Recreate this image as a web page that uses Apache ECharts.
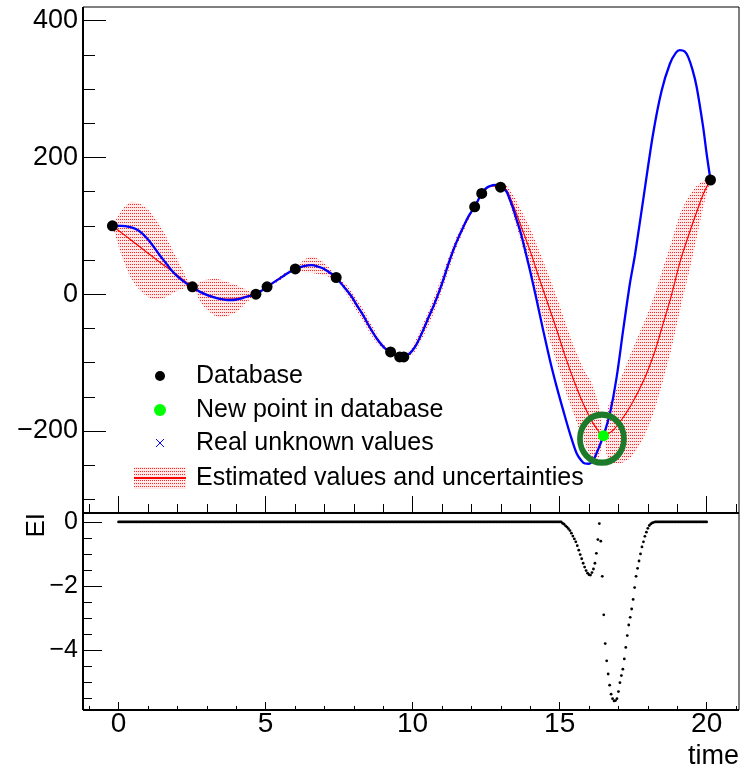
<!DOCTYPE html>
<html>
<head>
<meta charset="utf-8">
<title>Database, estimate and expected improvement</title>
<script src="https://cdn.jsdelivr.net/npm/echarts@6/dist/echarts.min.js"></script>
<style>
  html, body { margin: 0; padding: 0; background: #ffffff; }
  #main { width: 743px; height: 767px; }
</style>
</head>
<body>
<div id="main"></div>
<script>
// ---- data -------------------------------------------------------------

// Known samples (the database)
const dbTime  = [-0.21, 2.51, 4.67, 5.05, 6.01, 7.40, 9.25, 9.56, 9.70, 12.11, 12.35, 12.99, 20.13];
const dbValue = [100, 10.7, 0, 10.7, 37, 24.4, -84.5, -91.7, -91.7, 127.8, 147.4, 156.5, 167];

// Sample just added to the database
const newTime  = [16.49];
const newValue = [-207];

// Real (unknown) function
const realTime = [
  -0.21, 0.1, 0.4, 0.6, 0.8, 1.0, 1.2, 1.4, 1.6, 1.8,
  2.0, 2.2, 2.35, 2.51, 2.77, 3.11, 3.4, 3.7, 3.9,
  4.1, 4.3, 4.5, 4.67, 4.86, 5.05, 5.3, 5.55, 5.8, 6.01,
  6.3, 6.57, 6.8, 6.96, 7.2, 7.4, 7.6, 7.76, 7.95, 8.1,
  8.28, 8.44, 8.6, 8.78, 9.06, 9.25, 9.4, 9.56, 9.7, 9.85,
  10.0, 10.15, 10.36, 10.55, 10.7, 10.87, 11.04, 11.2, 11.38, 11.55,
  11.72, 11.9, 12.11, 12.35, 12.5, 12.63, 12.8, 12.99, 13.1, 13.2,
  13.3, 13.42, 13.55, 13.65, 13.76, 13.85, 13.99, 14.22, 14.44, 14.67,
  14.9, 15.12, 15.35, 15.58, 15.75, 15.86, 16.0, 16.14, 16.3, 16.49,
  16.71, 16.94, 17.16, 17.39, 17.56, 17.84, 18.18, 18.47, 18.75, 18.95,
  19.09, 19.25, 19.37, 19.52, 19.66, 19.88, 20.0, 20.13
];
const realValue = [
  100, 100, 98, 95, 89, 80, 69, 57, 46, 35,
  26, 19, 14.5, 10.7, 3.4, -2.9, -6.5, -8.5, -8.5,
  -7, -4.5, -2, 0, 5, 10.7, 18, 25, 32, 37,
  41, 42.4, 40, 37.6, 31, 24.4, 14, 5.8, -5, -16,
  -28, -40.5, -52.5, -64.8, -79.4, -84.5, -89, -91.6, -91.8, -88.5,
  -82, -72, -52.6, -33, -18.5, 0, 20.5, 42, 64, 82,
  98, 114, 127.8, 147.4, 155, 158, 160, 157, 154, 149.6,
  139, 125, 107, 93.6, 76, 60, 35, -8.8, -52.6, -96.5,
  -135.5, -169.6, -203.7, -233, -244, -247.6, -248, -242.8, -228, -207,
  -174.5, -121, -52.6, 15.6, 57, 137.5, 235, 298, 337, 353,
  357, 355, 347, 328, 303, 244.6, 205, 167
];

// Estimated values and their uncertainties
const estTime = [
  -0.21, 0.1, 0.4, 0.7, 1.0, 1.3, 1.6, 1.9, 2.2, 2.51,
  2.8, 3.1, 3.4, 3.7, 4.0, 4.3, 4.67, 4.86, 5.05, 5.3,
  5.55, 5.8, 6.01, 6.3, 6.6, 6.95, 7.2, 7.4, 7.7, 8.0,
  8.3, 8.6, 8.9, 9.25, 9.4, 9.56, 9.7, 10.0, 10.3, 10.6,
  10.9, 11.2, 11.5, 11.8, 12.11, 12.23, 12.35, 12.67, 12.99, 13.2,
  13.42, 13.7, 14.0, 14.3, 14.6, 14.9, 15.2, 15.5, 15.8, 16.1,
  16.3, 16.4, 16.49, 16.65, 16.82, 17.1, 17.39, 17.7, 17.96, 18.25,
  18.52, 18.8, 19.1, 19.4, 19.7, 19.9, 20.13
];
const estValue = [
  100, 89.8, 80, 70, 60, 50, 40.5, 31, 21, 10.7,
  3, -2, -6, -7, -6.5, -3.5, 0, 5, 10.7, 18,
  25, 32, 37, 41, 43, 37.5, 31, 24.4, 9.5, -9,
  -30, -52, -72, -84.5, -89, -91.7, -91.7, -82, -58, -29,
  4, 41, 77, 104, 127.8, 138, 147.4, 158.5, 156.5, 152,
  130, 98, 63, 24, -14, -52, -92, -128, -160, -186,
  -199, -204, -207, -204, -199, -184, -165, -140, -116, -82,
  -43, -2, 48, 88, 125, 148, 167
];
const estError = [
  0, 33, 55, 63, 64, 58, 45, 28, 13, 0,
  16, 24, 28, 25, 20, 11, 0, 1.5, 0, 2.5,
  3, 2.5, 0, 9, 12, 9.5, 6, 0, 6, 8,
  9, 8, 5, 0, 0.5, 0, 0, 6, 9, 11,
  11, 10, 8, 5, 0, 0.5, 0, 2, 0, 7,
  15, 24, 33, 40, 45, 48, 50, 50, 52, 55,
  42, 25, 0, 40, 48, 63, 75, 82, 84, 84,
  82, 78, 70, 56, 35, 18, 0
];

// Expected improvement, sampled every eiStep from eiStart (one row per time unit)
const eiStart = 0;
const eiStep = 0.05;
const eiValues = [
  /* 0  */ 0,0,0,0,0,0,0,0,0,0,0,0,0,0,0,0,0,0,0,0,
  /* 1  */ 0,0,0,0,0,0,0,0,0,0,0,0,0,0,0,0,0,0,0,0,
  /* 2  */ 0,0,0,0,0,0,0,0,0,0,0,0,0,0,0,0,0,0,0,0,
  /* 3  */ 0,0,0,0,0,0,0,0,0,0,0,0,0,0,0,0,0,0,0,0,
  /* 4  */ 0,0,0,0,0,0,0,0,0,0,0,0,0,0,0,0,0,0,0,0,
  /* 5  */ 0,0,0,0,0,0,0,0,0,0,0,0,0,0,0,0,0,0,0,0,
  /* 6  */ 0,0,0,0,0,0,0,0,0,0,0,0,0,0,0,0,0,0,0,0,
  /* 7  */ 0,0,0,0,0,0,0,0,0,0,0,0,0,0,0,0,0,0,0,0,
  /* 8  */ 0,0,0,0,0,0,0,0,0,0,0,0,0,0,0,0,0,0,0,0,
  /* 9  */ 0,0,0,0,0,0,0,0,0,0,0,0,0,0,0,0,0,0,0,0,
  /* 10 */ 0,0,0,0,0,0,0,0,0,0,0,0,0,0,0,0,0,0,0,0,
  /* 11 */ 0,0,0,0,0,0,0,0,0,0,0,0,0,0,0,0,0,0,0,0,
  /* 12 */ 0,0,0,0,0,0,0,0,0,0,0,0,0,0,0,0,0,0,0,0,
  /* 13 */ 0,0,0,0,0,0,0,0,0,0,0,0,0,0,0,0,0,0,0,0,
  /* 14 */ 0,0,0,0,0,0,0,0,0,0,0,0,0,0,0,0,0,0,0,0,
  /* 15 */ 0,0,-0.04,-0.07,-0.12,-0.16,-0.21,-0.27,-0.35,-0.44,-0.53,-0.62,-0.74,-0.88,-1.02,-1.15,-1.29,-1.41,-1.52,-1.60,
  /* 16 */ -1.65,-1.66,-1.58,-1.47,-1.29,-0.98,-0.55,-0.05,-0.60,-1.70,-2.90,-3.80,-4.34,-4.75,-5.10,-5.38,-5.52,-5.59,-5.58,-5.52,
  /* 17 */ -5.30,-5.02,-4.80,-4.60,-4.28,-3.92,-3.55,-3.22,-2.98,-2.72,-2.42,-2.05,-1.70,-1.45,-1.22,-1.00,-0.78,-0.62,-0.45,-0.32,
  /* 18 */ -0.20,-0.11,-0.06,-0.03,-0.01,0,0,0,0,0,0,0,0,0,0,0,0,0,0,0,
  /* 19 */ 0,0,0,0,0,0,0,0,0,0,0,0,0,0,0,0,0,0,0,0,
  /* 20 */ 0
];

// Axis ticks
const timeMajor = [0, 5, 10, 15, 20];
const timeMinor = [-1, 1, 2, 3, 4, 6, 7, 8, 9, 11, 12, 13, 14, 16, 17, 18, 19, 21];
const valueMajor = [-200, 0, 200, 400];
const valueMinor = [-300, -250, -150, -100, -50, 50, 100, 150, 250, 300, 350];
const eiMajor = [-4, -2, 0];
const eiMinor = [-5.5, -5, -4.5, -3.5, -3, -2.5, -1.5, -1, -0.5];

const legendLabels = ['Database', 'New point in database', 'Real unknown values', 'Estimated values and uncertainties'];

// ---- drawing ----------------------------------------------------------

const FONT = '"Liberation Sans", Arial, Helvetica, sans-serif';
const TIME_RANGE = [-1.21, 21.1];

const zip = (a, b) => a.map((v, i) => [v, b[i]]);
const minus = v => String(v).replace('-', '\u2212');

// red stipple used for the uncertainty band
function stipple() {
  const c = document.createElement('canvas');
  c.width = 2; c.height = 3;
  const g = c.getContext('2d');
  g.fillStyle = 'rgba(255,0,0,0.09)';
  g.fillRect(0, 0, 2, 3);
  g.fillStyle = 'rgba(255,0,0,0.85)';
  g.fillRect(0, 0, 1, 1);
  return c;
}
const bandFill = { image: stipple(), repeat: 'repeat' };

function timeAxis(grid, ticks, len, labels) {
  return {
    type: 'value', gridIndex: grid, min: TIME_RANGE[0], max: TIME_RANGE[1],
    position: 'bottom',
    axisLine: { show: false, onZero: false },
    splitLine: { show: false },
    axisTick: { show: true, inside: true, length: len, customValues: ticks,
                lineStyle: { color: '#000', width: 1 } },
    axisLabel: labels
      ? { show: true, customValues: ticks, fontSize: 28, fontFamily: FONT, color: '#000',
          margin: 0, formatter: minus }
      : { show: false }
  };
}
function valAxis(grid, min, max, ticks, len, labelSize) {
  return {
    type: 'value', gridIndex: grid, min: min, max: max,
    position: 'left',
    axisLine: { show: false, onZero: false },
    splitLine: { show: false },
    axisTick: { show: true, inside: true, length: len, customValues: ticks,
                lineStyle: { color: '#000', width: 1 } },
    axisLabel: labelSize
      ? { show: true, customValues: ticks, fontSize: labelSize, fontFamily: FONT, color: '#000',
          margin: 5, formatter: minus }
      : { show: false }
  };
}

const eiData = eiValues.map((v, i) => [eiStart + i * eiStep, v]);

const xAxes = [
  timeAxis(0, timeMajor, 17, false),
  timeAxis(0, timeMinor, 9, false),
  timeAxis(1, timeMajor, 8, true),
  timeAxis(1, timeMinor, 4, false)
];
xAxes[2].name = 'time';
xAxes[2].nameLocation = 'end';
xAxes[2].nameGap = 0;
xAxes[2].nameTextStyle = { fontSize: 27, fontFamily: FONT, color: '#000',
                           align: 'right', verticalAlign: 'top', padding: [33, 0, 0, 0] };

const yAxes = [
  valAxis(0, -320, 420, valueMajor, 23, 27),
  valAxis(0, -320, 420, valueMinor, 12, 0),
  valAxis(1, -5.875, 0.28, eiMajor, 19, 25),
  valAxis(1, -5.875, 0.28, eiMinor, 9, 0)
];

// legend drawn as graphic rows
const LX = 160, TX = 196, rows = [376, 410, 443, 478];
const legendText = rows.map((y, i) => ({
  type: 'text', x: TX, y: y,
  style: { text: legendLabels[i], fontSize: 25, fontFamily: FONT, fill: '#000',
           align: 'left', verticalAlign: 'middle' }
}));

const option = {
  animation: false,
  backgroundColor: '#ffffff',
  grid: [
    { left: 83, top: 7, width: 656, height: 506, outerBoundsMode: 'none', containLabel: false,
      show: true, borderColor: '#000', borderWidth: 1, backgroundColor: 'transparent' },
    { left: 83, top: 513, width: 656, height: 197, outerBoundsMode: 'none', containLabel: false,
      show: true, borderColor: '#000', borderWidth: 1, backgroundColor: 'transparent' }
  ],
  xAxis: xAxes,
  yAxis: yAxes,
  series: [
    {
      name: legendLabels[3] + ' band',
      type: 'custom', xAxisIndex: 0, yAxisIndex: 0, z: 1, silent: true,
      data: [[estTime[0], estValue[0]]],
      renderItem: function (params, api) {
        const up = estTime.map((t, i) => api.coord([t, estValue[i] + estError[i]]));
        const lo = estTime.map((t, i) => api.coord([t, estValue[i] - estError[i]])).reverse();
        return {
          type: 'polygon',
          shape: { points: up.concat(lo), smooth: 0.25 },
          style: { fill: bandFill, stroke: null }
        };
      }
    },
    {
      name: legendLabels[3],
      type: 'line', xAxisIndex: 0, yAxisIndex: 0, z: 2,
      data: zip(estTime, estValue), showSymbol: false, smooth: 0.3,
      lineStyle: { color: '#ff0000', width: 1.2 }
    },
    {
      name: legendLabels[2],
      type: 'line', xAxisIndex: 0, yAxisIndex: 0, z: 3,
      data: zip(realTime, realValue), showSymbol: false, smooth: 0.3,
      lineStyle: { color: '#0000ff', width: 2.3 }
    },
    {
      name: legendLabels[0],
      type: 'scatter', xAxisIndex: 0, yAxisIndex: 0, z: 5,
      data: zip(dbTime, dbValue), symbolSize: 11,
      itemStyle: { color: '#000000', opacity: 1 }
    },
    {
      name: legendLabels[1],
      type: 'scatter', xAxisIndex: 0, yAxisIndex: 0, z: 6,
      data: zip(newTime, newValue), symbolSize: 11,
      itemStyle: { color: '#00ff00', opacity: 1 }
    },
    {
      name: 'highlight',
      type: 'scatter', xAxisIndex: 0, yAxisIndex: 0, z: 7, silent: true,
      data: zip(newTime, newValue), symbol: 'circle', symbolSize: [44, 48], symbolOffset: [-1.5, 3],
      itemStyle: { color: 'rgba(0,0,0,0)', borderColor: '#1c7a2a', borderWidth: 6, opacity: 1 }
    },
    {
      name: 'EI',
      type: 'scatter', xAxisIndex: 2, yAxisIndex: 2, z: 5,
      data: eiData, symbolSize: 2.8,
      itemStyle: { color: '#000000', opacity: 1 }
    }
  ],
  graphic: [
    { type: 'line', shape: { x1: 83, y1: 7, x2: 83, y2: 710 }, style: { stroke: '#000', lineWidth: 2 }, z: 10 },
    { type: 'line', shape: { x1: 83, y1: 513, x2: 739, y2: 513 }, style: { stroke: '#000', lineWidth: 2 }, z: 10 },
    { type: 'line', shape: { x1: 83, y1: 710, x2: 739, y2: 710 }, style: { stroke: '#000', lineWidth: 2 }, z: 10 },
    {
      type: 'text', x: 37, y: 513, rotation: Math.PI / 2,
      style: { text: 'EI', fontSize: 26, fontFamily: FONT, fill: '#000', align: 'right', verticalAlign: 'middle' }
    },
    // legend markers
    { type: 'circle', shape: { cx: LX, cy: rows[0], r: 5 }, style: { fill: '#000' }, z: 10 },
    { type: 'circle', shape: { cx: LX, cy: rows[1], r: 6 }, style: { fill: '#00ff00' }, z: 10 },
    { type: 'line', shape: { x1: LX - 4, y1: rows[2] - 4, x2: LX + 4, y2: rows[2] + 4 }, style: { stroke: '#0000ff', lineWidth: 1 }, z: 10 },
    { type: 'line', shape: { x1: LX - 4, y1: rows[2] + 4, x2: LX + 4, y2: rows[2] - 4 }, style: { stroke: '#0000ff', lineWidth: 1 }, z: 10 },
    { type: 'rect', shape: { x: 134, y: rows[3] - 11, width: 52, height: 22 }, style: { fill: bandFill }, z: 10 },
    { type: 'line', shape: { x1: 134, y1: rows[3], x2: 186, y2: rows[3] }, style: { stroke: '#ff0000', lineWidth: 2 }, z: 11 }
  ].concat(legendText)
};

const chart = echarts.init(document.getElementById('main'), null, { renderer: 'canvas', width: 743, height: 767 });
chart.setOption(option);
</script>
</body>
</html>
